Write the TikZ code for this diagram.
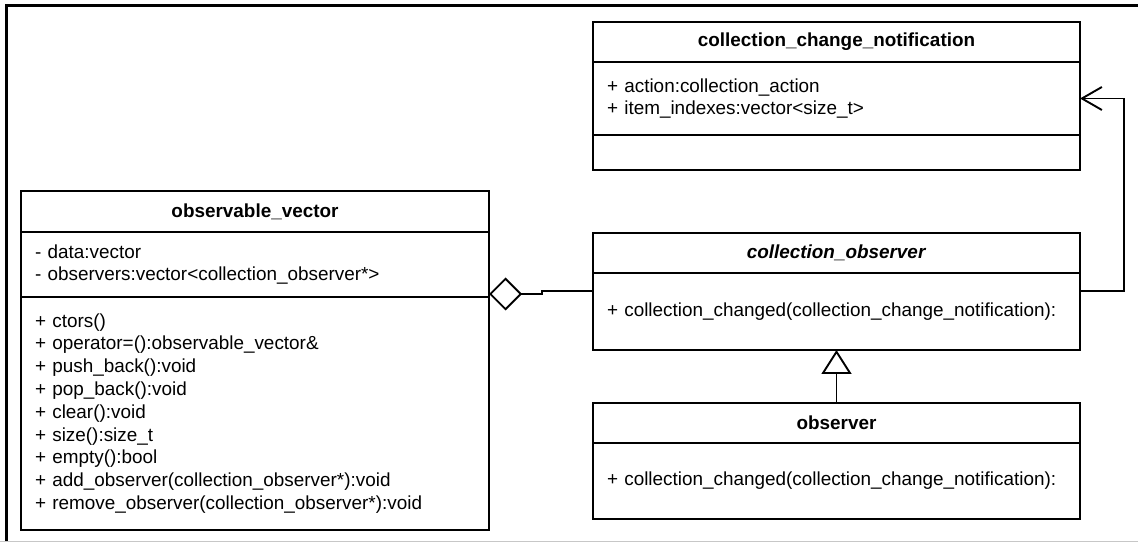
\documentclass[tikz,border=0pt]{standalone}
\usepackage{fontspec}
\setmainfont{Liberation Sans}
\usetikzlibrary{arrows.meta}
\newcommand\umlfont{\fontsize{18.9pt}{22.8pt}\selectfont}

\begin{document}
\begin{tikzpicture}[x=1pt,y=1pt,line join=miter,
  cls/.style={draw,line width=1.9pt,anchor=north west,outer sep=0pt,inner xsep=14pt,inner ysep=0pt,align=left,font=\umlfont},
  ttl/.style={cls,align=center,font=\umlfont\bfseries},
  lw/.style={text width=440pt},
  rw/.style={text width=459pt},
  conn/.style={line width=1.9pt}]
  \useasboundingbox (0,0) rectangle (1138,543);
  \draw[line width=3pt] (1138,537.5) -| (6.5,1.5);
  \draw[black!22,line width=1.2pt] (0,1.3) -- (1138,1.3);
  % observable_vector
  \node[ttl,lw,minimum height=41pt] (ovT) at (21,352) {observable\_vector};
  \node[cls,lw,minimum height=65pt] (ovA) at (ovT.south west) {- data:vector\\- observers:vector<collection\_observer*>};
  \node[cls,lw,minimum height=233pt] (ovM) at (ovA.south west) {+ ctors()\\+ operator=():observable\_vector\&\\+ push\_back():void\\+ pop\_back():void\\+ clear():void\\+ size():size\_t\\+ empty():bool\\+ add\_observer(collection\_observer*):void\\+ remove\_observer(collection\_observer*):void};
  % collection_change_notification
  \node[ttl,rw,minimum height=40pt] (ccnT) at (593,521) {collection\_change\_notification};
  \node[cls,rw,minimum height=73pt] (ccnA) at (ccnT.south west) {+ action:collection\_action\\+ item\_indexes:vector<size\_t>};
  \node[cls,rw,minimum height=35pt] (ccnM) at (ccnA.south west) {};
  % collection_observer
  \node[ttl,rw,minimum height=40pt] (coT) at (593,310) {\textit{collection\_observer}};
  \node[cls,rw,minimum height=77pt] (coM) at (coT.south west) {+ collection\_changed(collection\_change\_notification):};
  % observer
  \node[ttl,rw,minimum height=40pt] (obT) at (593,140) {observer};
  \node[cls,rw,minimum height=76pt] (obM) at (obT.south west) {+ collection\_changed(collection\_change\_notification):};

  \draw[conn,-{Diamond[open,length=33pt,width=33pt]}] ([yshift=-18pt]coM.north west) -- ++(-51,0) -- ++(0,-3) -- ([yshift=3pt]ovA.south east);
  \draw[conn,-{Straight Barb[length=20pt,width=23pt]}] ([yshift=-18pt]coM.north east) -- ++(44,0) |- (ccnA.east);
  \draw[conn,-{Triangle[open,length=24pt,width=30pt]}] (obT.north) -- (coM.south);
\end{tikzpicture}
\end{document}
